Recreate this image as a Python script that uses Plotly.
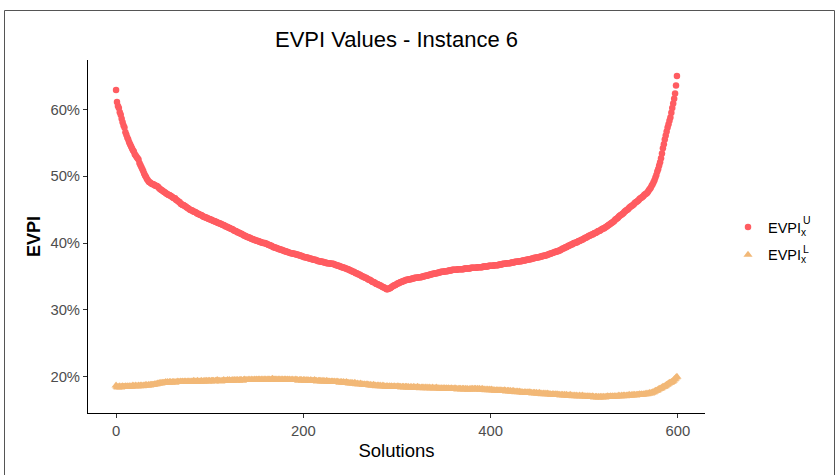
import plotly.graph_objects as go

# EVPI (%) per solution, upper bound series
evpi_upper = [
    62.9, 61.1, 60.5, 60.2, 59.6, 59.2, 58.6, 58.1, 57.6, 57.3,
    56.6, 56.2, 55.8, 55.5, 55.1, 54.8, 54.5, 54.2, 53.9, 53.7,
    53.3, 53.1, 52.9, 52.7, 52.5, 52.0, 51.7, 51.4, 51.1, 50.8,
    50.4, 50.1, 49.9, 49.6, 49.4, 49.2, 49.1, 49.0, 48.9, 48.8,
    48.8, 48.7, 48.6, 48.6, 48.5, 48.4, 48.2, 48.1, 48.0, 47.9,
    47.8, 47.7, 47.6, 47.5, 47.4, 47.3, 47.2, 47.2, 47.1, 47.0,
    46.9, 46.8, 46.7, 46.7, 46.5, 46.4, 46.3, 46.2, 46.1, 45.9,
    45.8, 45.7, 45.7, 45.6, 45.5, 45.4, 45.3, 45.2, 45.1, 45.0,
    44.9, 44.9, 44.8, 44.7, 44.7, 44.6, 44.5, 44.4, 44.4, 44.3,
    44.2, 44.2, 44.1, 44.0, 43.9, 43.9, 43.8, 43.8, 43.7, 43.6,
    43.6, 43.5, 43.5, 43.4, 43.3, 43.3, 43.2, 43.2, 43.1, 43.0,
    43.0, 42.9, 42.9, 42.8, 42.7, 42.7, 42.6, 42.5, 42.5, 42.4,
    42.3, 42.3, 42.2, 42.1, 42.1, 42.0, 41.9, 41.8, 41.8, 41.7,
    41.6, 41.6, 41.5, 41.4, 41.4, 41.3, 41.2, 41.1, 41.1, 41.0,
    40.9, 40.9, 40.8, 40.8, 40.7, 40.6, 40.6, 40.5, 40.5, 40.4,
    40.4, 40.3, 40.3, 40.2, 40.2, 40.1, 40.1, 40.0, 40.0, 40.0,
    39.9, 39.9, 39.8, 39.7, 39.7, 39.6, 39.6, 39.5, 39.4, 39.4,
    39.3, 39.3, 39.2, 39.2, 39.1, 39.1, 39.0, 39.0, 38.9, 38.9,
    38.8, 38.8, 38.7, 38.7, 38.6, 38.6, 38.5, 38.5, 38.5, 38.4,
    38.4, 38.4, 38.3, 38.3, 38.3, 38.2, 38.2, 38.1, 38.1, 38.0,
    38.0, 37.9, 37.9, 37.9, 37.8, 37.8, 37.7, 37.7, 37.7, 37.6,
    37.6, 37.5, 37.5, 37.5, 37.4, 37.4, 37.3, 37.3, 37.3, 37.2,
    37.2, 37.2, 37.1, 37.1, 37.1, 37.0, 37.0, 37.0, 37.0, 36.9,
    36.9, 36.9, 36.9, 36.8, 36.8, 36.7, 36.7, 36.6, 36.6, 36.5,
    36.5, 36.4, 36.4, 36.3, 36.3, 36.2, 36.2, 36.1, 36.1, 36.0,
    35.9, 35.9, 35.8, 35.7, 35.7, 35.6, 35.5, 35.5, 35.4, 35.3,
    35.3, 35.2, 35.1, 35.0, 35.0, 34.9, 34.8, 34.8, 34.7, 34.6,
    34.5, 34.5, 34.4, 34.3, 34.2, 34.2, 34.1, 34.0, 33.9, 33.9,
    33.8, 33.7, 33.7, 33.6, 33.5, 33.4, 33.4, 33.3, 33.2, 33.1,
    33.1, 33.2, 33.2, 33.3, 33.4, 33.5, 33.6, 33.7, 33.7, 33.8,
    33.9, 34.0, 34.0, 34.1, 34.2, 34.2, 34.3, 34.3, 34.4, 34.4,
    34.5, 34.5, 34.5, 34.6, 34.6, 34.6, 34.7, 34.7, 34.7, 34.8,
    34.8, 34.8, 34.8, 34.9, 34.9, 34.9, 34.9, 35.0, 35.0, 35.0,
    35.1, 35.1, 35.1, 35.2, 35.2, 35.3, 35.3, 35.3, 35.4, 35.4,
    35.4, 35.5, 35.5, 35.5, 35.6, 35.6, 35.6, 35.7, 35.7, 35.7,
    35.7, 35.8, 35.8, 35.8, 35.8, 35.9, 35.9, 35.9, 35.9, 36.0,
    36.0, 36.0, 36.0, 36.0, 36.0, 36.1, 36.1, 36.1, 36.1, 36.1,
    36.1, 36.1, 36.2, 36.2, 36.2, 36.2, 36.2, 36.2, 36.2, 36.3,
    36.3, 36.3, 36.3, 36.3, 36.3, 36.3, 36.4, 36.4, 36.4, 36.4,
    36.4, 36.4, 36.5, 36.5, 36.5, 36.5, 36.5, 36.5, 36.6, 36.6,
    36.6, 36.6, 36.6, 36.6, 36.7, 36.7, 36.7, 36.7, 36.7, 36.8,
    36.8, 36.8, 36.8, 36.9, 36.9, 36.9, 36.9, 37.0, 37.0, 37.0,
    37.0, 37.0, 37.1, 37.1, 37.1, 37.1, 37.2, 37.2, 37.2, 37.2,
    37.3, 37.3, 37.3, 37.3, 37.4, 37.4, 37.4, 37.4, 37.5, 37.5,
    37.5, 37.6, 37.6, 37.6, 37.7, 37.7, 37.7, 37.8, 37.8, 37.8,
    37.9, 37.9, 37.9, 38.0, 38.0, 38.0, 38.1, 38.1, 38.1, 38.2,
    38.2, 38.3, 38.3, 38.4, 38.4, 38.5, 38.5, 38.6, 38.6, 38.7,
    38.7, 38.8, 38.8, 38.9, 38.9, 39.0, 39.1, 39.2, 39.2, 39.3,
    39.4, 39.4, 39.5, 39.6, 39.6, 39.7, 39.8, 39.8, 39.9, 40.0,
    40.0, 40.1, 40.1, 40.2, 40.3, 40.3, 40.4, 40.5, 40.5, 40.6,
    40.7, 40.8, 40.8, 40.9, 41.0, 41.1, 41.1, 41.2, 41.3, 41.3,
    41.4, 41.5, 41.5, 41.6, 41.7, 41.8, 41.8, 41.9, 42.0, 42.1,
    42.2, 42.2, 42.3, 42.4, 42.5, 42.6, 42.7, 42.8, 42.9, 43.0,
    43.1, 43.2, 43.3, 43.5, 43.6, 43.7, 43.8, 44.0, 44.1, 44.2,
    44.3, 44.4, 44.5, 44.7, 44.8, 44.9, 45.0, 45.1, 45.3, 45.4,
    45.5, 45.6, 45.7, 45.8, 46.0, 46.1, 46.2, 46.3, 46.4, 46.6,
    46.7, 46.8, 46.9, 47.0, 47.2, 47.3, 47.4, 47.5, 47.7, 47.9,
    48.1, 48.3, 48.6, 48.8, 49.1, 49.4, 49.8, 50.2, 50.7, 51.1,
    51.6, 52.1, 52.7, 53.4, 54.2, 54.8, 55.5, 56.1, 56.7, 57.3,
    57.8, 58.3, 58.8, 59.5, 60.2, 60.9, 61.6, 62.4, 63.6, 65.0,
]

# EVPI (%) per solution, lower bound series
evpi_lower = [
    18.7, 18.5, 18.4, 18.5, 18.6, 18.4, 18.5, 18.6, 18.5, 18.5,
    18.6, 18.5, 18.6, 18.5, 18.6, 18.6, 18.5, 18.6, 18.7, 18.6,
    18.6, 18.7, 18.6, 18.6, 18.7, 18.6, 18.7, 18.7, 18.6, 18.7,
    18.7, 18.7, 18.8, 18.7, 18.7, 18.8, 18.7, 18.8, 18.8, 18.8,
    18.8, 18.9, 18.9, 18.9, 19.0, 19.0, 19.0, 19.1, 19.0, 19.1,
    19.1, 19.1, 19.1, 19.2, 19.1, 19.2, 19.1, 19.2, 19.2, 19.1,
    19.2, 19.2, 19.2, 19.1, 19.2, 19.2, 19.3, 19.2, 19.2, 19.3,
    19.2, 19.3, 19.2, 19.3, 19.3, 19.2, 19.3, 19.3, 19.3, 19.2,
    19.3, 19.3, 19.3, 19.4, 19.3, 19.3, 19.3, 19.4, 19.3, 19.3,
    19.3, 19.4, 19.3, 19.3, 19.4, 19.3, 19.4, 19.4, 19.3, 19.4,
    19.4, 19.3, 19.4, 19.4, 19.4, 19.3, 19.4, 19.4, 19.5, 19.4,
    19.4, 19.4, 19.3, 19.4, 19.4, 19.5, 19.4, 19.4, 19.4, 19.5,
    19.4, 19.5, 19.4, 19.4, 19.5, 19.4, 19.5, 19.5, 19.4, 19.5,
    19.5, 19.4, 19.5, 19.5, 19.5, 19.4, 19.5, 19.6, 19.5, 19.5,
    19.5, 19.5, 19.6, 19.5, 19.5, 19.6, 19.5, 19.5, 19.6, 19.5,
    19.6, 19.5, 19.6, 19.6, 19.5, 19.6, 19.6, 19.5, 19.6, 19.6,
    19.6, 19.5, 19.6, 19.6, 19.6, 19.5, 19.6, 19.7, 19.6, 19.6,
    19.6, 19.6, 19.5, 19.6, 19.6, 19.6, 19.5, 19.6, 19.6, 19.5,
    19.6, 19.6, 19.5, 19.6, 19.5, 19.6, 19.5, 19.5, 19.6, 19.5,
    19.5, 19.5, 19.6, 19.5, 19.5, 19.4, 19.5, 19.5, 19.5, 19.4,
    19.5, 19.5, 19.4, 19.5, 19.4, 19.5, 19.4, 19.4, 19.5, 19.4,
    19.4, 19.4, 19.5, 19.4, 19.4, 19.3, 19.4, 19.4, 19.4, 19.3,
    19.4, 19.3, 19.4, 19.3, 19.3, 19.4, 19.3, 19.3, 19.3, 19.2,
    19.3, 19.3, 19.2, 19.3, 19.2, 19.2, 19.3, 19.2, 19.2, 19.1,
    19.2, 19.2, 19.1, 19.2, 19.1, 19.1, 19.2, 19.1, 19.1, 19.0,
    19.1, 19.0, 19.1, 19.0, 19.0, 19.1, 19.0, 18.9, 19.0, 18.9,
    18.9, 19.0, 18.9, 18.9, 18.8, 18.9, 18.8, 18.8, 18.9, 18.8,
    18.8, 18.7, 18.8, 18.7, 18.7, 18.8, 18.7, 18.7, 18.6, 18.7,
    18.7, 18.6, 18.7, 18.6, 18.6, 18.7, 18.6, 18.6, 18.5, 18.6,
    18.6, 18.5, 18.6, 18.5, 18.6, 18.5, 18.5, 18.6, 18.5, 18.5,
    18.5, 18.6, 18.5, 18.5, 18.5, 18.4, 18.5, 18.5, 18.4, 18.5,
    18.5, 18.4, 18.5, 18.4, 18.4, 18.5, 18.4, 18.4, 18.5, 18.4,
    18.4, 18.4, 18.5, 18.4, 18.4, 18.3, 18.4, 18.4, 18.4, 18.3,
    18.4, 18.4, 18.3, 18.4, 18.3, 18.4, 18.3, 18.3, 18.4, 18.3,
    18.3, 18.3, 18.4, 18.3, 18.3, 18.3, 18.2, 18.3, 18.3, 18.2,
    18.3, 18.3, 18.2, 18.3, 18.2, 18.3, 18.2, 18.2, 18.3, 18.2,
    18.2, 18.2, 18.3, 18.2, 18.2, 18.1, 18.2, 18.2, 18.2, 18.1,
    18.2, 18.2, 18.1, 18.2, 18.1, 18.2, 18.1, 18.1, 18.2, 18.1,
    18.2, 18.2, 18.1, 18.2, 18.2, 18.1, 18.2, 18.1, 18.2, 18.1,
    18.1, 18.2, 18.1, 18.1, 18.1, 18.0, 18.1, 18.1, 18.0, 18.1,
    18.0, 18.1, 18.0, 18.0, 18.0, 17.9, 18.0, 18.0, 17.9, 18.0,
    17.9, 18.0, 17.9, 17.9, 17.9, 18.0, 17.9, 17.8, 17.9, 17.9,
    17.8, 17.9, 17.8, 17.8, 17.9, 17.8, 17.8, 17.7, 17.8, 17.8,
    17.7, 17.8, 17.7, 17.7, 17.7, 17.6, 17.7, 17.7, 17.6, 17.7,
    17.6, 17.7, 17.7, 17.6, 17.6, 17.5, 17.6, 17.6, 17.5, 17.6,
    17.5, 17.5, 17.6, 17.5, 17.5, 17.4, 17.5, 17.5, 17.4, 17.5,
    17.4, 17.5, 17.4, 17.4, 17.4, 17.3, 17.4, 17.4, 17.3, 17.4,
    17.3, 17.4, 17.3, 17.3, 17.3, 17.2, 17.3, 17.3, 17.2, 17.3,
    17.2, 17.3, 17.2, 17.2, 17.2, 17.3, 17.2, 17.2, 17.1, 17.2,
    17.2, 17.1, 17.2, 17.1, 17.1, 17.2, 17.1, 17.1, 17.2, 17.1,
    17.1, 17.1, 17.0, 17.1, 17.1, 17.0, 17.1, 17.0, 17.0, 17.1,
    17.0, 16.9, 17.0, 17.0, 16.9, 17.0, 16.9, 17.0, 17.0, 16.9,
    17.0, 17.0, 16.9, 17.0, 17.0, 17.1, 17.0, 17.0, 17.1, 17.0,
    17.1, 17.0, 17.1, 17.1, 17.0, 17.1, 17.1, 17.2, 17.1, 17.1,
    17.2, 17.1, 17.2, 17.2, 17.1, 17.2, 17.2, 17.2, 17.3, 17.2,
    17.2, 17.3, 17.2, 17.3, 17.3, 17.2, 17.3, 17.3, 17.3, 17.4,
    17.3, 17.4, 17.3, 17.4, 17.4, 17.4, 17.5, 17.4, 17.5, 17.5,
    17.6, 17.5, 17.6, 17.7, 17.7, 17.8, 17.9, 17.9, 18.0, 18.1,
    18.2, 18.2, 18.3, 18.4, 18.5, 18.5, 18.6, 18.7, 18.8, 18.9,
    19.0, 19.1, 19.1, 19.2, 19.3, 19.4, 19.6, 19.7, 19.9, 20.0,
]

solutions_upper = list(range(len(evpi_upper)))
solutions_lower = list(range(len(evpi_lower)))

x_ticks = [0, 200, 400, 600]
y_ticks = [20, 30, 40, 50, 60]
y_tick_labels = [f"{v}%" for v in y_ticks]

RED = "#FF5C61"
ORANGE = "#F2B877"
FONT = "Liberation Sans, Arial, sans-serif"

# plot panel geometry (pixels) used for placing the frame and legend scripts
W, H = 837, 475
L, R, T, B = 88, 132, 60, 62
PW, PH = W - L - R, H - T - B


def px_x(px):
    return (px - L) / PW


def px_y(py):
    return (H - B - py) / PH


fig = go.Figure()

fig.add_trace(go.Scatter(
    x=solutions_upper, y=evpi_upper, mode="markers",
    name="EVPI<sub>x</sub>", legendgroup="u",
    marker=dict(symbol="circle", size=6.5, color=RED),
))
fig.add_trace(go.Scatter(
    x=solutions_lower, y=evpi_lower, mode="markers",
    name="EVPI<sub>x</sub>", legendgroup="l",
    marker=dict(symbol="triangle-up", size=8, color=ORANGE),
))

fig.update_layout(
    width=W, height=H,
    margin=dict(l=L, r=R, t=T, b=B, pad=0),
    paper_bgcolor="white", plot_bgcolor="white",
    font=dict(family=FONT, color="black"),
    title=dict(
        text="EVPI Values - Instance 6",
        font=dict(size=22, color="black", family=FONT),
        x=0.5, xref="paper", xanchor="center",
        y=1 - 39 / H, yref="container", yanchor="middle",
    ),
    showlegend=True,
    legend=dict(
        x=px_x(728), y=px_y(241), xanchor="left", yanchor="middle",
        font=dict(size=14.5, color="black", family=FONT),
        tracegroupgap=6, itemwidth=30, bgcolor="rgba(0,0,0,0)",
    ),
    xaxis=dict(
        range=[-29.95, 628.95], tickvals=x_ticks,
        showgrid=False, zeroline=False,
        showline=True, linecolor="black", linewidth=1,
        ticks="outside", ticklen=4, tickwidth=1, tickcolor="#333333",
        tickfont=dict(size=14.8, color="#4D4D4D", family=FONT),
        title=dict(text="Solutions", font=dict(size=18.5, color="black", family=FONT),
                   standoff=6),
    ),
    yaxis=dict(
        range=[14.58, 67.4], tickvals=y_ticks, ticktext=y_tick_labels,
        showgrid=False, zeroline=False,
        showline=True, linecolor="black", linewidth=1,
        ticks="outside", ticklen=4, tickwidth=1, tickcolor="#333333",
        tickfont=dict(size=14.8, color="#4D4D4D", family=FONT),
        title=dict(text="<b>EVPI</b>", font=dict(size=18, color="black", family=FONT),
                   standoff=5),
    ),
)

# superscripts stacked over the legend subscripts
for label, py in (("U", 220), ("L", 249)):
    fig.add_annotation(
        text=label, x=px_x(801), y=px_y(py), xref="paper", yref="paper",
        xanchor="left", yanchor="middle", showarrow=False,
        font=dict(size=10.5, color="black", family=FONT),
    )

# outer frame around the figure
fig.add_shape(
    type="rect", xref="paper", yref="paper",
    x0=px_x(4.5), x1=px_x(834.5), y0=px_y(500), y1=px_y(10.5),
    line=dict(color="#555555", width=1), fillcolor="rgba(0,0,0,0)", layer="below",
)

fig.write_html("out.html")
